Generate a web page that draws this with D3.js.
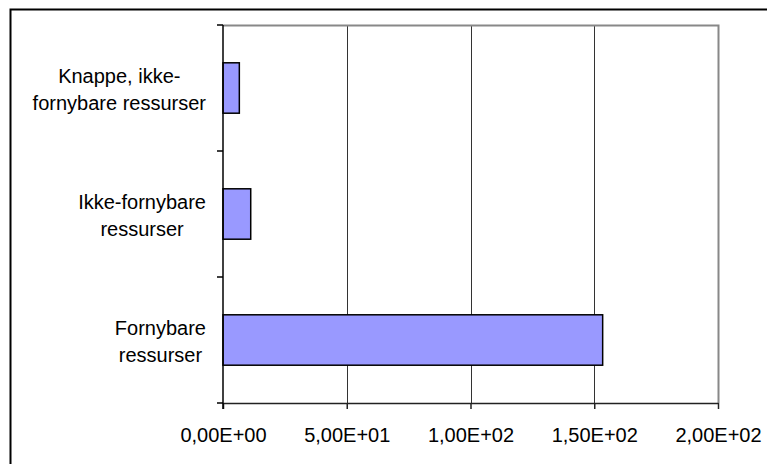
<!DOCTYPE html>
<html>
<head>
<meta charset="utf-8">
<script src="https://cdn.jsdelivr.net/npm/d3@7"></script>
<style>
  html, body { margin: 0; padding: 0; background: #fff; }
  svg { display: block; }
  text { font-family: "Liberation Sans", Arial, sans-serif; fill: #000; }
</style>
</head>
<body>
<svg id="chart" width="767" height="464"></svg>
<script>
// Resources, listed top to bottom
const categories = [
  ["Knappe, ikke-", "fornybare ressurser"],
  ["Ikke-fornybare", "ressurser"],
  ["Fornybare", "ressurser"]
];
const values = [6.6, 11.2, 153.4];
const xTicks = [0, 50, 100, 150, 200];
const xTickLabels = ["0,00E+00", "5,00E+01", "1,00E+02", "1,50E+02", "2,00E+02"];

const svg = d3.select("#chart");
const plot = { left: 223, right: 718, top: 25, bottom: 403 };

// Outer chart frame (extends past the window on the right and bottom)
svg.append("rect")
  .attr("x", 10.5).attr("y", 9.5)
  .attr("width", 800).attr("height", 500)
  .attr("fill", "none").attr("stroke", "#000").attr("stroke-width", 2);

const x = d3.scaleLinear().domain([0, 200]).range([plot.left, plot.right]);
const y = d3.scaleBand()
  .domain(d3.range(categories.length))
  .range([plot.top, plot.bottom])
  .paddingInner(0.6).paddingOuter(0.3);
const yEdges = d3.scaleLinear().domain([0, categories.length]).range([plot.top, plot.bottom]);

// Vertical gridlines
svg.append("g").selectAll("line")
  .data(xTicks.filter(t => t > 0 && t < 200))
  .join("line")
  .attr("x1", d => Math.round(x(d)) + 0.5).attr("x2", d => Math.round(x(d)) + 0.5)
  .attr("y1", plot.top).attr("y2", plot.bottom)
  .attr("stroke", "#333").attr("stroke-width", 1);

// Plot area border on top and right
svg.append("path")
  .attr("d", `M${plot.left},${plot.top + 0.5}H${plot.right + 0.5}V${plot.bottom}`)
  .attr("fill", "none").attr("stroke", "#888").attr("stroke-width", 2);

// Bars
svg.append("g").selectAll("rect")
  .data(values)
  .join("rect")
  .attr("x", x(0))
  .attr("y", (d, i) => y(i))
  .attr("width", d => x(d) - x(0))
  .attr("height", y.bandwidth())
  .attr("fill", "#9999FF")
  .attr("stroke", "#000").attr("stroke-width", 1.5);

// Bottom axis
const xAxis = d3.axisBottom(x)
  .tickValues(xTicks)
  .tickFormat((d, i) => xTickLabels[i])
  .tickSize(6).tickSizeOuter(0).tickPadding(19);
const gx = svg.append("g")
  .attr("transform", `translate(0,${plot.bottom})`)
  .call(xAxis);
gx.select(".domain").attr("stroke", "#222").attr("stroke-width", 1.5);
gx.selectAll(".tick line").attr("stroke", "#222").attr("stroke-width", 1.5);
gx.selectAll(".tick text")
  .attr("font-size", 20)
  .attr("font-family", "Liberation Sans, Arial, sans-serif")
  .attr("fill", "#000");

// Left axis with ticks at category boundaries
svg.append("line")
  .attr("x1", plot.left).attr("x2", plot.left)
  .attr("y1", plot.top).attr("y2", plot.bottom + 6)
  .attr("stroke", "#000").attr("stroke-width", 1.5);
svg.append("g").selectAll("line")
  .data(d3.range(categories.length + 1))
  .join("line")
  .attr("x1", plot.left - 6).attr("x2", plot.left)
  .attr("y1", d => yEdges(d)).attr("y2", d => yEdges(d))
  .attr("stroke", "#000").attr("stroke-width", 1.5);

// Category labels: each block centred line-by-line, right edge near the axis
const labelRight = 206;
categories.forEach((lines, i) => {
  const c = y(i) + y.bandwidth() / 2;
  const g = svg.append("g");
  const texts = lines.map((s, k) => g.append("text")
    .attr("y", c - 5 + k * 27)
    .attr("font-size", 20)
    .attr("text-anchor", "middle")
    .text(s));
  const w = d3.max(texts, t => t.node().getComputedTextLength());
  texts.forEach(t => t.attr("x", labelRight - w / 2));
});
</script>
</body>
</html>
